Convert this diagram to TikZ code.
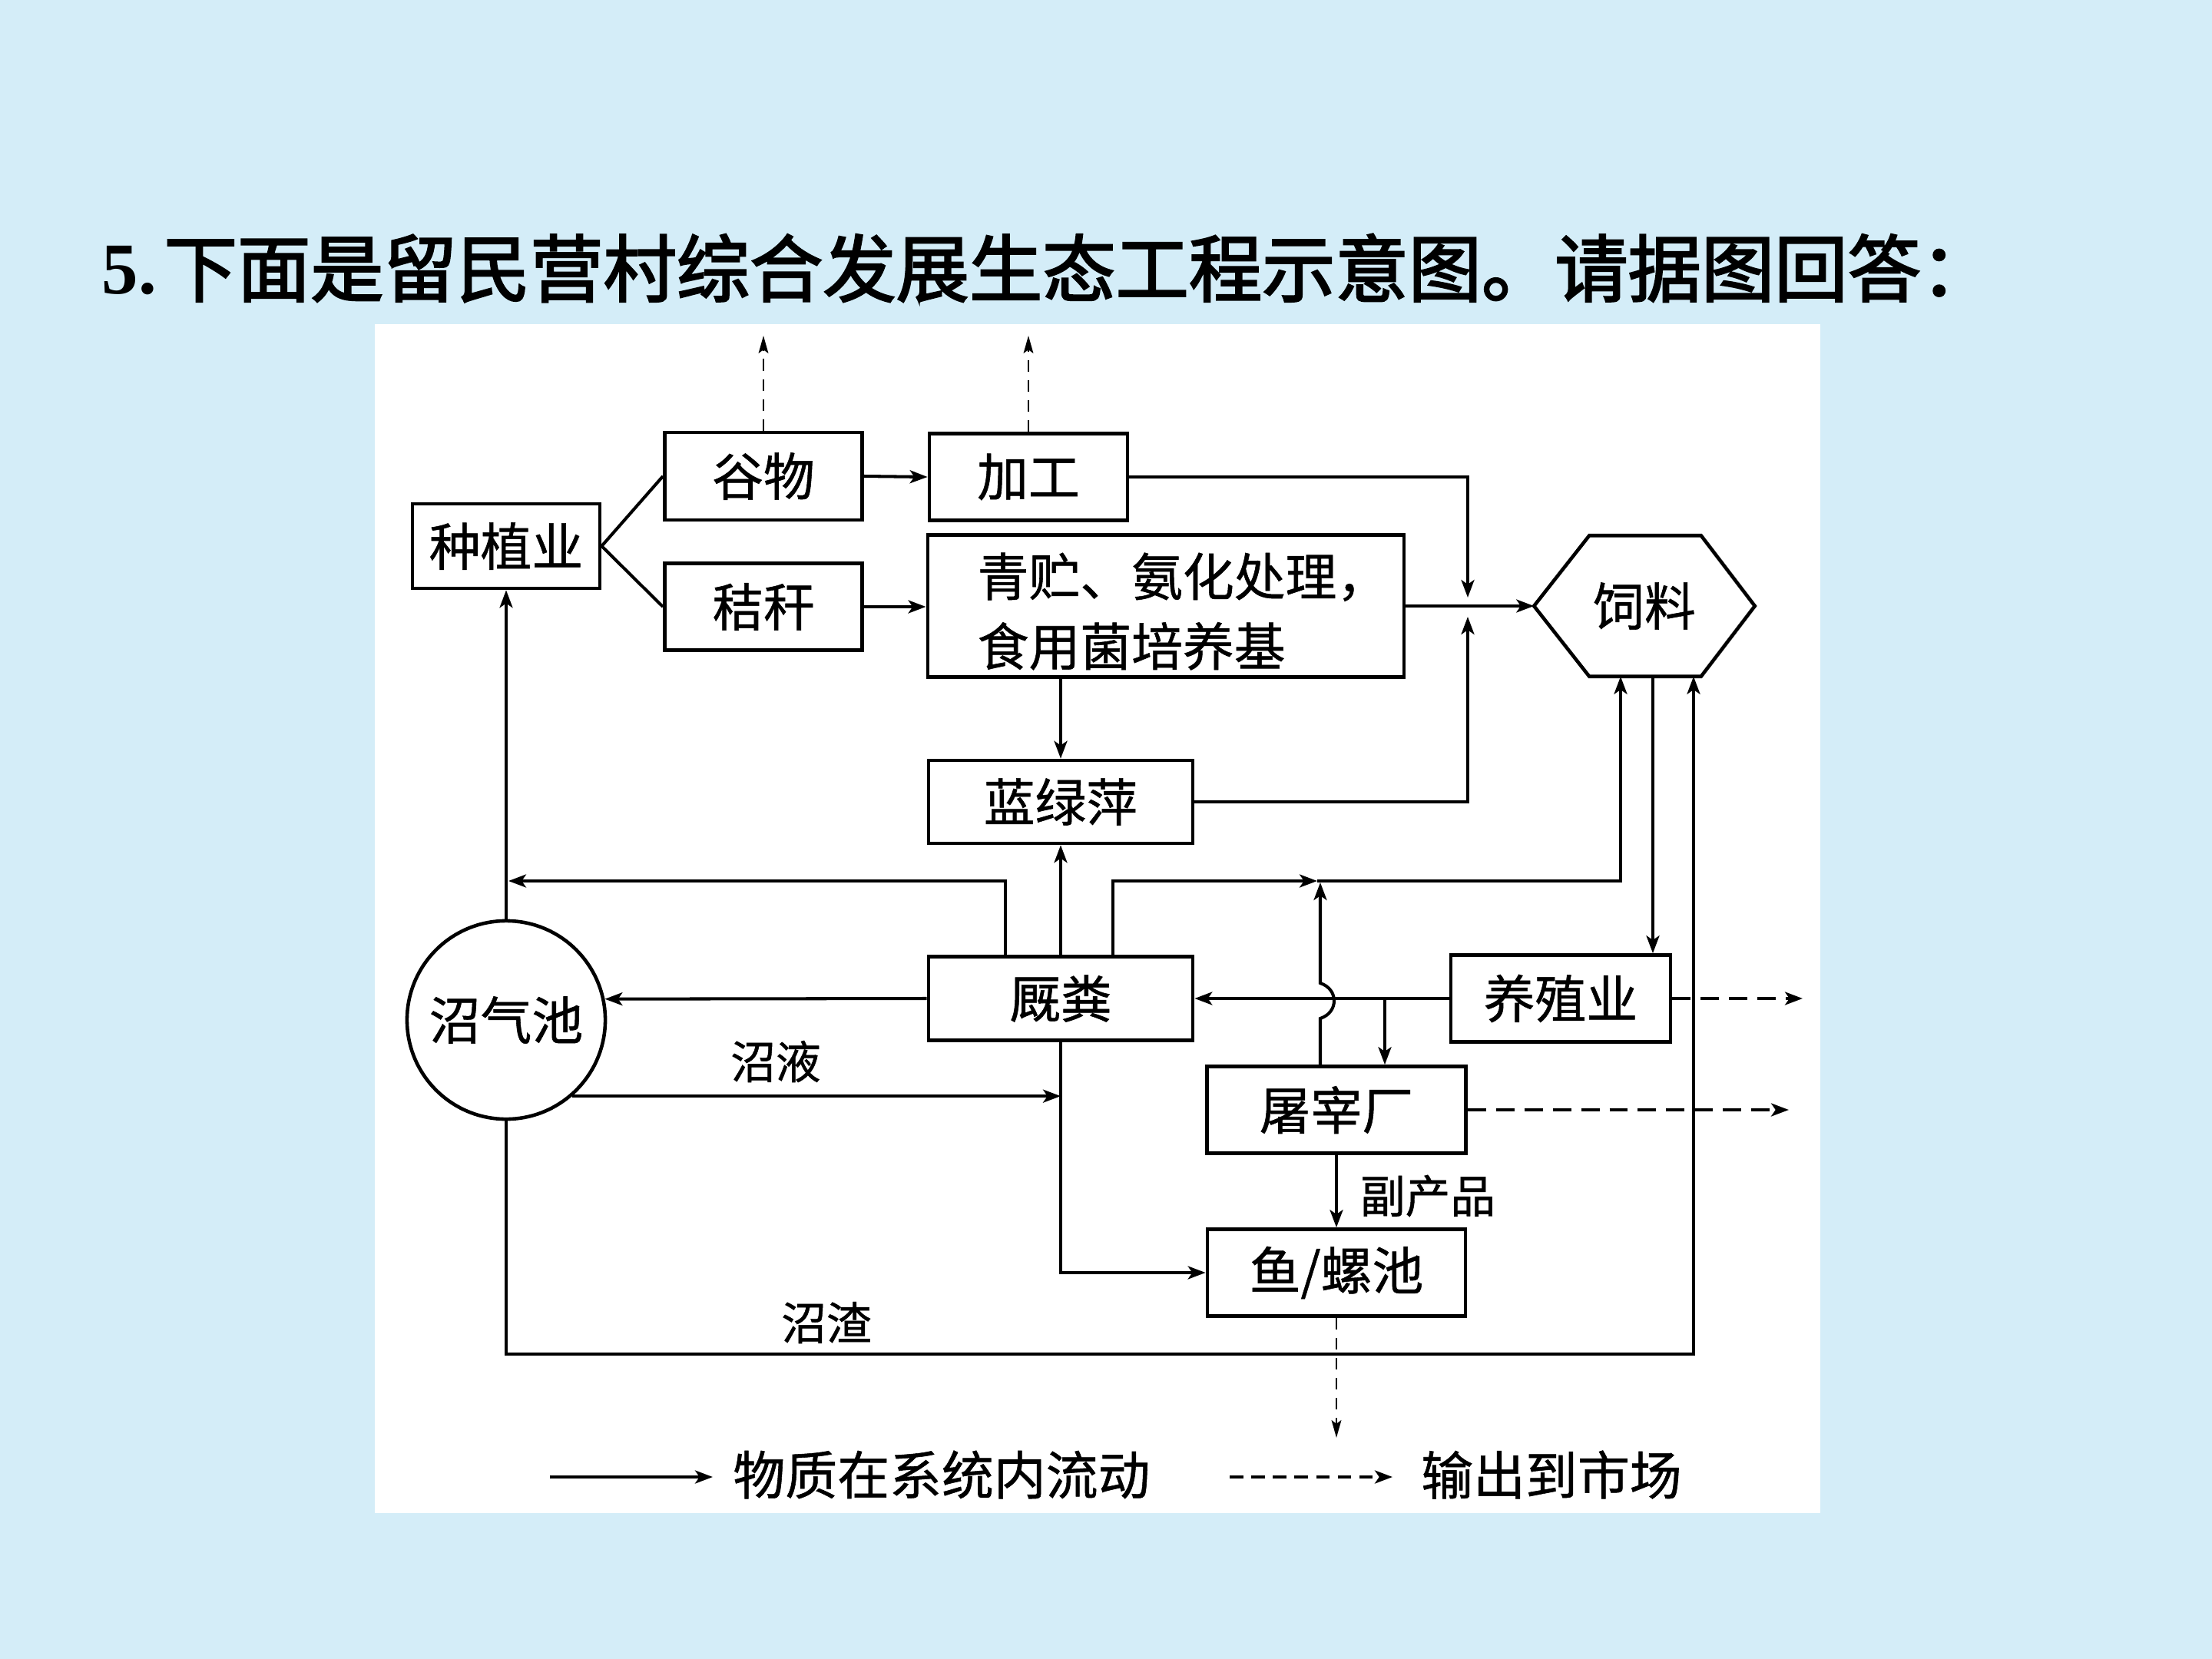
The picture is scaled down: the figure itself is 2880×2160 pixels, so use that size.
\documentclass[tikz,border=0pt]{standalone}
\usepackage{fontspec}
\newfontfamily\cjk[FakeBold=0.8]{Noto Sans CJK SC}
\newfontfamily\cjkbold[FakeBold=2.5]{Noto Sans CJK SC}
\newfontfamily\tnr{Liberation Serif}
\usetikzlibrary{arrows.meta,calc}
\definecolor{bgblue}{RGB}{212,237,248}
\tikzset{
  boxnode/.style={draw, line width=1.3pt, fill=white, inner sep=0pt,
    font=\cjk\fontsize{19}{23}\selectfont},
  txtnode/.style={inner sep=0pt, font=\cjk\fontsize{19}{23}\selectfont},
  lbl/.style={inner sep=0pt, font=\cjk\fontsize{16.7}{20}\selectfont},
  legtxt/.style={inner sep=0pt, font=\cjk\fontsize{19.3}{23}\selectfont},
  conn/.style={line width=1.15pt, line join=miter},
  arr/.style={conn, -{Stealth[length=6.5pt,width=4.8pt,inset=1.6pt]}},
  dshv/.style={line width=0.8pt, dash pattern=on 4.3pt off 3.1pt,
    -{Stealth[length=6.5pt,width=3.6pt,inset=1.3pt]}},
  dshh/.style={line width=1.15pt, dash pattern=on 6.8pt off 3.7pt,
    -{Stealth[length=6.5pt,width=4.8pt,inset=1.6pt]}},
}
\begin{document}
\begin{tikzpicture}[x=0.01cm,y=-0.01cm]
\fill[bgblue] (0,0) rectangle (2880,2160);
\useasboundingbox (0,0) rectangle (2880,2160);
\fill[white] (488,422) rectangle (2370,1970);

% title
\node[inner sep=0pt, anchor=west, font=\tnr\bfseries\fontsize{27}{30}\selectfont] (tnum) at (132,352) {5.};
\node[inner sep=0pt, anchor=west, font=\cjkbold\fontsize{27.1}{30}\selectfont] (title) at (213,349) {下面是留民营村综合发展生态工程示意图。请据图回答：};

% boxes
\node[boxnode, minimum width=2.44cm, minimum height=1.10cm] (zz) at (659,711) {种植业};
\node[boxnode, minimum width=2.57cm, minimum height=1.14cm] (gw) at (994,620) {谷物};
\node[boxnode, minimum width=2.58cm, minimum height=1.13cm] (jq) at (1339,621) {加工};
\node[boxnode, minimum width=2.57cm, minimum height=1.13cm] (jg) at (994,790) {秸秆};
\node[boxnode, minimum width=6.20cm, minimum height=1.85cm] (qz) at (1518,789) {};
\node[txtnode, anchor=west, align=left] (qzt) at (1272,796) {青贮、氨化处理，\\[0.1cm]食用菌培养基};
\node[txtnode, minimum width=2.86cm, minimum height=1.82cm] (sl) at (2141,789) {饲料};
\draw[line width=1.3pt, line join=miter] (sl.west) -- ([xshift=0.72cm]sl.north west) -- ([xshift=-0.70cm]sl.north east) -- (sl.east) -- ([xshift=-0.70cm]sl.south east) -- ([xshift=0.72cm]sl.south west) -- cycle;
\node[boxnode, minimum width=3.44cm, minimum height=1.08cm] (lp) at (1381,1044) {蓝绿萍};
\node[boxnode, minimum width=3.44cm, minimum height=1.09cm] (jf) at (1381,1300) {厩粪};
\node[boxnode, circle, minimum size=2.58cm] (zq) at (659,1328) {沼气池};
\node[boxnode, minimum width=2.86cm, minimum height=1.13cm] (yz) at (2032,1300) {养殖业};
\node[boxnode, minimum width=3.37cm, minimum height=1.13cm] (tz) at (1740,1445) {屠宰厂};
\node[boxnode, minimum width=3.36cm, minimum height=1.13cm] (yc) at (1740,1657) {鱼/螺池};

% coordinates
\coordinate (m1) at (994,437);
\coordinate (m2) at (1339,437);
\coordinate (j1) at (1911,778);
\coordinate (j2) at (1911,803);
\coordinate (a1) at (1309,1147);
\coordinate (a2) at (662,1147);
\coordinate (b1) at (1449,1147);
\coordinate (bj) at (1715,1147);
\coordinate (b2) at (2110,1147);
\coordinate (h1) at (1719,1326);
\coordinate (h2) at (1719,1280);
\coordinate (h3) at (1719,1149);
\coordinate (c1) at (1803,1300);
\coordinate (d1) at (2152,1000);
\coordinate (e1) at (2347,1300);
\coordinate (e2) at (2329,1445);
\coordinate (f1) at (2205,1763);
\coordinate (g1) at (1740,1872);

% connectors
\draw[conn] (zz.east) -- (gw.west);
\draw[conn] (zz.east) -- (jg.west);
\draw[arr] (gw.east) -- (jq.west);
\draw[dshv] (gw.north) -- (m1);
\draw[dshv] (jq.north) -- (m2);
\draw[arr] (jg.east) -- (qz.west |- jg.east);
\draw[arr] (qz.east |- sl.west) -- (sl.west);
\draw[arr] (jq.east) -| (j1);
\draw[arr] (lp.east) -| (j2);
\draw[arr] (lp.north |- qz.south) -- (lp.north);
\draw[arr] (jf.north) -- (lp.south);
\draw[arr] (jf.north -| a1) -- (a1) -- (a2);
\draw[arr] (zq.north) -- (zz.south);
\draw[arr] (jf.north -| b1) |- (bj);
\draw[arr] (bj) -- (b2) -- (b2 |- sl.south);
\draw[arr] (tz.north -| h1) -- (h1) .. controls (1743,1318) and (1743,1288) .. (h2) -- (h3);
\draw[arr] (yz.west) -- (jf.east);
\draw[arr] (c1) -- (c1 |- tz.north);
\draw[arr] (d1 |- sl.south) -- (d1 |- yz.north);
\draw[dshh] (yz.east) -- (e1);
\draw[dshh] (tz.east) -- (e2);
\draw[arr] (tz.south) -- (yc.north);
\draw[arr] (jf.south) |- (yc.west);
\draw[arr] (zq.-49.4) -- (zq.-49.4 -| jf.south);
\draw[arr] (jf.west) -- (zq.12.5);
\draw[arr] (zq.south) |- (f1) -- (f1 |- sl.south);
\draw[dshv] (yc.south) -- (g1);

% labels
\node[lbl] (lby) at (1010,1382) {沼液};
\node[lbl] (lbf) at (1859,1557) {副产品};
\node[lbl] (lbz) at (1076,1722) {沼渣};

% legend
\coordinate (L1) at (716,1923);
\coordinate (L2) at (928,1923);
\coordinate (L3) at (1601,1923);
\coordinate (L4) at (1813,1923);
\draw[arr, line width=1.4pt] (L1) -- (L2);
\node[legtxt] (lg1) at (1226,1920) {物质在系统内流动};
\draw[dshh, line width=1.3pt, dash pattern=on 5pt off 3pt] (L3) -- (L4);
\node[legtxt] (lg2) at (2020,1920) {输出到市场};
\end{tikzpicture}
\end{document}
